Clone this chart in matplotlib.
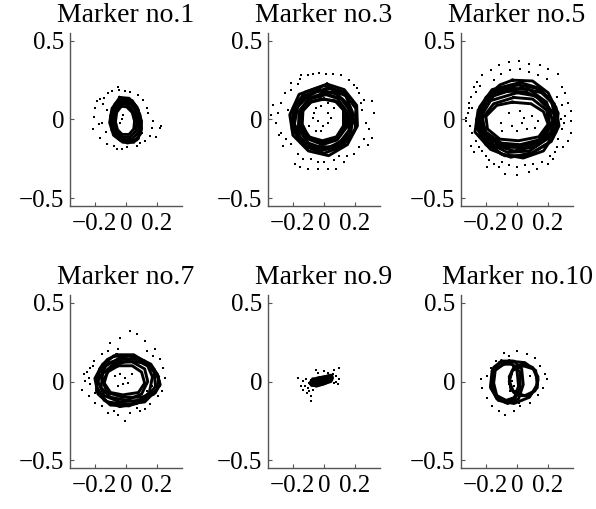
import numpy as np
import matplotlib
matplotlib.use('Agg')
import matplotlib.pyplot as plt

plt.rcParams['font.family'] = ['Liberation Serif', 'DejaVu Serif']

# ---- data ----
titles = ['Marker no.1', 'Marker no.3', 'Marker no.5',
          'Marker no.7', 'Marker no.9', 'Marker no.10']
xticks = [-0.2, 0, 0.2]
xticklabels = ['\u22120.2', '0', '0.2']
yticks = [-0.5, 0, 0.5]
yticklabels = ['\u22120.5', '0', '0.5']

# marker 1
m1_loops = [
    [(-0.04, 0.14), (0.02, 0.135), (0.07, 0.08), (0.10, -0.01), (0.095, -0.09), (0.05, -0.145), (-0.02, -0.145), (-0.08, -0.10), (-0.105, -0.02), (-0.09, 0.07)],
    [(-0.035, 0.12), (0.015, 0.115), (0.06, 0.065), (0.085, -0.01), (0.08, -0.08), (0.04, -0.125), (-0.02, -0.13), (-0.07, -0.09), (-0.09, -0.02), (-0.08, 0.06)],
    [(-0.03, 0.10), (0.01, 0.095), (0.05, 0.05), (0.07, -0.01), (0.065, -0.07), (0.03, -0.11), (-0.02, -0.115), (-0.06, -0.08), (-0.078, -0.02), (-0.07, 0.05)],
    [(-0.03, 0.085), (0.005, 0.08), (0.04, 0.045), (0.055, -0.01), (0.05, -0.06), (0.02, -0.095), (-0.025, -0.095), (-0.055, -0.065), (-0.068, -0.015), (-0.06, 0.045)],
    [(-0.02, 0.13), (0.04, 0.12), (0.08, 0.06), (0.09, -0.04), (0.08, -0.12), (0.03, -0.14), (-0.04, -0.13), (-0.09, -0.07), (-0.1, 0.02), (-0.07, 0.1)],
    [(-0.01, 0.11), (0.05, 0.1), (0.09, 0.03), (0.1, -0.06), (0.07, -0.13), (0.01, -0.15), (-0.05, -0.12), (-0.08, -0.05), (-0.07, 0.05)],
]
m1_dots_x = [-0.049, -0.043, -0.006, 0.025, -0.091, -0.113, -0.14, -0.166, -0.187, -0.197, -0.204, -0.212, -0.166, -0.123,
             -0.059, -0.028, 0.004, 0.068, 0.121, 0.153, 0.164, 0.174, 0.142, 0.132, 0.110, 0.078, 0.217, 0.227, 0.1,
             -0.176, -0.155, -0.123, -0.038, -0.017, -0.027, -0.15, -0.13, 0.09, 0.19, -0.08]
m1_dots_y = [0.208, 0.1875, 0.181, 0.177, 0.181, 0.167, 0.135, 0.131, 0.119, 0.073, 0.015, -0.0625, -0.115, -0.156,
             -0.1875, -0.1875, -0.173, -0.167, -0.135, -0.104, -0.052, -0.01, 0.042, 0.073, 0.125, 0.156, -0.052, -0.042, -0.083,
             -0.031, -0.021, 0.0625, -0.021, 0.031, 0.0, 0.1, -0.08, -0.15, -0.11, -0.17]

# marker 3
m3_loops = [
    [(0.0, 0.215), (0.125, 0.175), (0.205, 0.07), (0.2, -0.06), (0.12, -0.17), (0.0, -0.215), (-0.125, -0.17), (-0.205, -0.06), (-0.2, 0.07), (-0.12, 0.175)],
    [(-0.03, 0.19), (0.09, 0.16), (0.165, 0.06), (0.16, -0.07), (0.09, -0.16), (-0.02, -0.195), (-0.13, -0.155), (-0.2, -0.05), (-0.19, 0.06), (-0.13, 0.15)],
    [(0.02, 0.16), (0.12, 0.13), (0.18, 0.04), (0.175, -0.06), (0.11, -0.15), (0.0, -0.185), (-0.1, -0.15), (-0.165, -0.06), (-0.16, 0.05), (-0.09, 0.13)],
    [(-0.01, 0.165), (0.085, 0.135), (0.145, 0.055), (0.145, -0.05), (0.085, -0.13), (-0.01, -0.16), (-0.1, -0.125), (-0.16, -0.04), (-0.155, 0.06), (-0.095, 0.135)],
    [(0.0, 0.13), (0.09, 0.11), (0.14, 0.045), (0.135, -0.05), (0.08, -0.12), (-0.005, -0.145), (-0.09, -0.115), (-0.145, -0.04), (-0.14, 0.05), (-0.085, 0.11)],
    [(0.03, 0.2), (0.14, 0.15), (0.19, 0.03), (0.17, -0.08), (0.1, -0.17), (-0.03, -0.2), (-0.14, -0.14), (-0.19, -0.03), (-0.17, 0.08), (-0.08, 0.17)],
    [(-0.04, 0.18), (0.07, 0.17), (0.15, 0.1), (0.185, -0.02), (0.14, -0.12), (0.04, -0.175), (-0.08, -0.17), (-0.17, -0.1), (-0.2, 0.01), (-0.15, 0.12)],
    [(0.02, 0.225), (0.13, 0.19), (0.21, 0.09), (0.215, -0.04), (0.15, -0.16), (0.03, -0.23), (-0.1, -0.2), (-0.2, -0.1), (-0.22, 0.03), (-0.16, 0.16)],
    [(-0.02, 0.13), (0.07, 0.12), (0.125, 0.06), (0.125, -0.04), (0.08, -0.11), (-0.01, -0.135), (-0.1, -0.11), (-0.14, -0.03), (-0.135, 0.06), (-0.08, 0.115)],
]
m3_dots_x = [-0.146, -0.104, -0.072, -0.030, 0.013, 0.055, 0.108, -0.157, -0.210, -0.168, 0.161, 0.193,
             -0.252, -0.274, -0.327, -0.295, -0.338, -0.306, -0.274, -0.242, -0.210, -0.263,
             -0.168, -0.136, -0.083, -0.040, 0.002, 0.066, 0.097, 0.151, -0.157, -0.104, -0.040, 0.024, 0.076, -0.189,
             0.225, 0.257, 0.246, 0.310, 0.320, 0.268, 0.289, 0.257, 0.225, 0.310, 0.193, 0.236,
             -0.051, -0.019, 0.024, -0.062, -0.072, -0.040, -0.008, 0.024, -0.051, -0.019, -0.094, 0.045, 0.066, 0.024,
             -0.23, -0.29, 0.28, 0.13, -0.21, 0.21]
m3_dots_y = [0.281, 0.281, 0.292, 0.296, 0.292, 0.2875, 0.281, 0.26, 0.229, 0.225, 0.25, 0.219,
             0.167, 0.104, 0.094, 0.042, 0.031, -0.021, -0.083, -0.125, -0.156, -0.167,
             -0.219, -0.25, -0.25, -0.271, -0.271, -0.26, -0.229, -0.229, -0.302, -0.3125, -0.3125, -0.3125, -0.3125, -0.281,
             0.167, 0.125, 0.0625, 0.115, 0.042, -0.021, -0.0625, -0.125, -0.177, -0.115, -0.219, 0.104,
             0.073, 0.083, 0.104, 0.042, 0.010, -0.010, -0.042, -0.021, -0.073, -0.073, -0.042, 0.010, 0.073, 0.042,
             0.06, -0.1, -0.16, -0.27, 0.19, 0.2]

# marker 5
m5_loops = [
    [(-0.03, 0.25), (0.1, 0.245), (0.2, 0.17), (0.265, 0.04), (0.25, -0.08), (0.17, -0.2), (0.04, -0.245), (-0.1, -0.22), (-0.22, -0.12), (-0.26, 0.0), (-0.2, 0.14), (-0.11, 0.22)],
    [(0.0, 0.22), (0.12, 0.2), (0.22, 0.12), (0.25, 0.0), (0.2, -0.12), (0.08, -0.2), (-0.06, -0.21), (-0.18, -0.15), (-0.25, -0.04), (-0.23, 0.08), (-0.14, 0.18)],
    [(-0.05, 0.2), (0.08, 0.19), (0.19, 0.11), (0.23, -0.01), (0.17, -0.13), (0.05, -0.18), (-0.08, -0.175), (-0.19, -0.11), (-0.245, 0.0), (-0.2, 0.11), (-0.12, 0.18)],
    [(0.0, 0.17), (0.12, 0.15), (0.2, 0.07), (0.21, -0.04), (0.14, -0.13), (0.02, -0.16), (-0.1, -0.15), (-0.2, -0.08), (-0.23, 0.02), (-0.17, 0.12)],
    [(-0.03, 0.11), (0.09, 0.1), (0.17, 0.05), (0.2, -0.03), (0.14, -0.11), (0.01, -0.135), (-0.11, -0.125), (-0.19, -0.06), (-0.2, 0.02), (-0.13, 0.09)],
    [(0.02, 0.235), (0.14, 0.2), (0.24, 0.1), (0.255, -0.03), (0.2, -0.15), (0.07, -0.23), (-0.08, -0.23), (-0.2, -0.16), (-0.26, -0.05), (-0.24, 0.08), (-0.16, 0.19)],
    [(-0.06, 0.18), (0.06, 0.175), (0.17, 0.12), (0.24, 0.03), (0.22, -0.08), (0.12, -0.17), (-0.02, -0.2), (-0.15, -0.16), (-0.23, -0.06), (-0.22, 0.07), (-0.15, 0.15)],
    [(0.03, 0.2), (0.16, 0.17), (0.25, 0.08), (0.27, -0.04), (0.22, -0.14), (0.1, -0.21), (-0.04, -0.24), (-0.17, -0.19), (-0.27, -0.08), (-0.25, 0.06), (-0.15, 0.16)],
    [(-0.02, 0.14), (0.1, 0.13), (0.19, 0.06), (0.21, -0.05), (0.15, -0.14), (0.02, -0.17), (-0.12, -0.16), (-0.21, -0.09), (-0.22, 0.01), (-0.15, 0.1)],
]
m5_dots_x = [0.011, -0.053, 0.075, -0.117, 0.149, 0.202, -0.170, -0.223, 0.266, -0.043, 0.021, 0.075, -0.106, 0.138, 0.191, -0.148,
             -0.255, -0.276, -0.265, -0.297, -0.308, -0.287, -0.318, -0.329, -0.329, -0.287, -0.265, -0.297, -0.244, -0.223, -0.276,
             -0.202, -0.180, -0.148, -0.096, -0.117, -0.053, 0.0, 0.053, 0.106, 0.159, 0.212, 0.244, 0.255, -0.191, -0.074, 0.0, 0.075, 0.127, 0.202,
             0.287, 0.308, 0.329, 0.345, 0.35, 0.345, 0.329, 0.297, 0.266, 0.287, 0.308, 0.287, 0.255,
             -0.106, -0.032, -0.053, 0.021, 0.043, 0.096, -0.096, 0.0, 0.064, 0.138, 0.117, 0.032,
             -0.3, -0.31, 0.3, 0.28, -0.24, 0.23]
m5_dots_y = [0.375, 0.365, 0.354, 0.344, 0.344, 0.323, 0.3125, 0.281, 0.292, 0.3125, 0.323, 0.302, 0.292, 0.281, 0.26, 0.25,
             0.24, 0.208, 0.177, 0.146, 0.104, 0.073, 0.042, 0.010, -0.010, -0.083, -0.135, -0.167, -0.177, -0.198, -0.208,
             -0.229, -0.26, -0.281, -0.271, -0.302, -0.292, -0.302, -0.292, -0.281, -0.271, -0.229, -0.208, -0.177, -0.302, -0.344, -0.354, -0.333, -0.3125, -0.281,
             0.208, 0.167, 0.104, 0.052, -0.010, -0.083, -0.135, -0.177, -0.125, -0.0625, 0.021, 0.094, 0.146,
             -0.021, -0.042, 0.042, 0.052, 0.010, 0.021, -0.073, -0.073, -0.0625, -0.010, -0.052, -0.021,
             -0.04, 0.07, -0.02, 0.0, 0.21, -0.25]

# marker 7
m7_loops = [
    [(-0.06, 0.17), (0.05, 0.17), (0.13, 0.12), (0.17, 0.03), (0.15, -0.07), (0.07, -0.14), (-0.04, -0.16), (-0.14, -0.12), (-0.19, -0.03), (-0.17, 0.08), (-0.12, 0.14)],
    [(-0.04, 0.15), (0.06, 0.14), (0.14, 0.1), (0.2, 0.05), (0.22, -0.02), (0.18, -0.08), (0.08, -0.12), (-0.04, -0.13), (-0.14, -0.09), (-0.18, 0.0), (-0.13, 0.1)],
    [(-0.07, 0.12), (0.04, 0.125), (0.12, 0.08), (0.14, 0.0), (0.1, -0.08), (0.0, -0.12), (-0.1, -0.1), (-0.16, -0.04), (-0.15, 0.05)],
    [(0.0, 0.13), (0.1, 0.12), (0.18, 0.08), (0.215, 0.0), (0.19, -0.07), (0.1, -0.1), (-0.02, -0.1), (-0.12, -0.07), (-0.15, 0.0), (-0.1, 0.09)],
    [(-0.05, 0.1), (0.04, 0.1), (0.1, 0.06), (0.12, -0.01), (0.08, -0.07), (-0.02, -0.085), (-0.1, -0.07), (-0.14, -0.01), (-0.12, 0.06)],
    [(-0.08, 0.16), (0.03, 0.165), (0.12, 0.13), (0.18, 0.06), (0.19, -0.03), (0.13, -0.11), (0.02, -0.155), (-0.1, -0.15), (-0.18, -0.08), (-0.2, 0.02), (-0.15, 0.11)],
    [(-0.03, 0.14), (0.08, 0.15), (0.16, 0.11), (0.21, 0.03), (0.2, -0.05), (0.12, -0.13), (0.0, -0.145), (-0.12, -0.13), (-0.19, -0.06), (-0.18, 0.05), (-0.11, 0.12)],
]
m7_dots_x = [0.025, 0.068, -0.038, 0.121, -0.102, 0.185, 0.174, 0.217, 0.238, 0.248, 0.217, 0.206, 0.153, 0.121, 0.068, 0.025,
             -0.006, -0.049, -0.113, -0.155, -0.197, -0.24, -0.282, -0.261, -0.272, -0.229, -0.208, -0.155, -0.113, -0.049,
             0.132, -0.24, -0.229, 0.164, 0.132, 0.142, 0.185, -0.07, -0.038, -0.006, 0.015, -0.049, 0.036, -0.017,
             -0.25, -0.21, 0.23, 0.09, -0.08, -0.2]
m7_dots_y = [0.32, 0.30, 0.278, 0.257, 0.246, 0.204, 0.161, 0.14, 0.087, 0.024, -0.03, -0.094, -0.146, -0.178, -0.168, -0.2,
             -0.253, -0.21, -0.2, -0.157, -0.136, -0.094, -0.051, 0.002, 0.045, 0.087, 0.129, 0.172, 0.193, 0.204,
             0.193, 0.024, -0.019, -0.03, -0.062, -0.094, 0.045, 0.034, 0.045, 0.024, -0.008, -0.03, 0.045, -0.019,
             0.06, 0.1, -0.06, -0.19, -0.19, -0.07]

# marker 9
m9_loops = [
    [(-0.09, -0.01), (-0.05, 0.02), (0.0, 0.03), (0.05, 0.04), (0.055, 0.02), (0.01, -0.01), (-0.04, -0.025), (-0.08, -0.025)],
    [(-0.08, 0.005), (-0.03, 0.025), (0.03, 0.03), (0.05, 0.01), (0.0, -0.015), (-0.05, -0.03), (-0.085, -0.015)],
    [(-0.07, 0.015), (-0.02, 0.02), (0.04, 0.04), (0.045, 0.0), (-0.02, -0.02), (-0.07, -0.01)],
    [(-0.08, -0.005), (-0.04, 0.005), (0.01, 0.015), (0.05, 0.025), (0.02, 0.005), (-0.03, -0.01), (-0.075, -0.02)],
    [(-0.06, 0.0), (-0.01, 0.01), (0.03, 0.02), (0.0, 0.005), (-0.04, -0.005)],
]
m9_dots_x = [-0.168, -0.136, -0.125, -0.136, -0.104, -0.094, -0.072, -0.083, -0.051, -0.04, 0.024, 0.066, 0.097,
             0.076, 0.097, 0.066, 0.087, 0.045, -0.115, -0.147, -0.083, 0.002, -0.094, -0.11, 0.06, 0.08]
m9_dots_y = [0.023, 0.002, -0.03, -0.051, -0.04, -0.062, -0.051, -0.094, 0.076, 0.055, 0.055, 0.076, 0.087,
             0.034, 0.013, -0.008, -0.019, 0.002, 0.013, -0.03, -0.125, 0.066, -0.008, -0.07, 0.05, 0.0]

# marker 10
m10_loops = [
    [(-0.1, 0.13), (-0.02, 0.13), (0.03, 0.08), (0.04, -0.02), (0.01, -0.11), (-0.06, -0.14), (-0.13, -0.11), (-0.17, -0.03), (-0.16, 0.07)],
    [(-0.09, 0.11), (-0.03, 0.11), (0.02, 0.06), (0.02, -0.04), (-0.01, -0.1), (-0.07, -0.12), (-0.13, -0.09), (-0.15, -0.01), (-0.14, 0.07)],
    [(-0.11, 0.12), (-0.04, 0.12), (0.0, 0.07), (0.01, -0.03), (-0.02, -0.11), (-0.08, -0.13), (-0.14, -0.08), (-0.16, 0.01), (-0.15, 0.09)],
    [(0.03, 0.11), (0.1, 0.09), (0.135, 0.03), (0.13, -0.04), (0.08, -0.09), (0.01, -0.09), (-0.04, -0.05), (-0.05, 0.03), (-0.02, 0.09)],
    [(0.04, 0.1), (0.105, 0.08), (0.135, 0.01), (0.115, -0.06), (0.05, -0.09), (-0.02, -0.07), (-0.05, 0.0), (-0.03, 0.07)],
    [(-0.05, 0.13), (0.05, 0.12), (0.12, 0.07), (0.13, -0.02), (0.08, -0.1), (-0.02, -0.14), (-0.12, -0.12), (-0.17, -0.04), (-0.15, 0.07)],
]
m10_dots_x = [-0.085, 0.0, 0.064, 0.117, 0.148, 0.18, 0.191, 0.17, 0.138, 0.085, 0.021, -0.021, -0.074, -0.117, -0.159,
              -0.191, -0.223, -0.234, -0.191, -0.17, -0.138, -0.053,
              -0.043, -0.032, -0.053, -0.021, -0.043, -0.011, -0.032, 0.085, 0.011]
m10_dots_y = [0.183, 0.193, 0.172, 0.15, 0.098, 0.045, 0.013, -0.04, -0.083, -0.136, -0.157, -0.189, -0.21, -0.189, -0.157,
              -0.104, -0.04, 0.013, 0.034, 0.087, 0.129, 0.161,
              0.023, 0.002, -0.019, -0.03, -0.062, -0.062, 0.045, 0.034, -0.136]

all_loops = [m1_loops, m3_loops, m5_loops, m7_loops, m9_loops, m10_loops]
all_dots = [(m1_dots_x, m1_dots_y), (m3_dots_x, m3_dots_y), (m5_dots_x, m5_dots_y),
            (m7_dots_x, m7_dots_y), (m9_dots_x, m9_dots_y), (m10_dots_x, m10_dots_y)]

fig = plt.figure(figsize=(5.96, 5.09), dpi=100)

lefts = [70 / 596, 268 / 596, 461 / 596]
bottoms = [1 - 206 / 509, 1 - 468 / 509]
w = 112 / 596
h = 173 / 509

for i in range(6):
    ax = fig.add_axes([lefts[i % 3], bottoms[i // 3], w, h])
    for loop in all_loops[i]:
        pts = np.array(loop + [loop[0]])
        ax.plot(pts[:, 0], pts[:, 1], color='black', lw=2.1, solid_joinstyle='round')
    dx, dy = all_dots[i]
    ax.plot(dx, dy, linestyle='none', marker='s', markersize=1.7, color='black', markeredgewidth=0)

    ax.set_xlim(-0.36, 0.36)
    ax.set_ylim(-0.55, 0.55)
    ax.set_xticks(xticks)
    ax.set_xticklabels(xticklabels)
    ax.set_yticks(yticks)
    ax.set_yticklabels(yticklabels)
    ax.spines['top'].set_visible(False)
    ax.spines['right'].set_visible(False)
    for s in ['left', 'bottom']:
        ax.spines[s].set_color('#555555')
        ax.spines[s].set_linewidth(1.0)
    ax.tick_params(direction='in', length=3, width=0.8, color='#555555', labelsize=18)
    ax.tick_params(axis='x', pad=5)
    ax.tick_params(axis='y', pad=4)
    ax.set_title(titles[i], fontsize=20, pad=8)

fig.savefig('out.png', dpi=100)
